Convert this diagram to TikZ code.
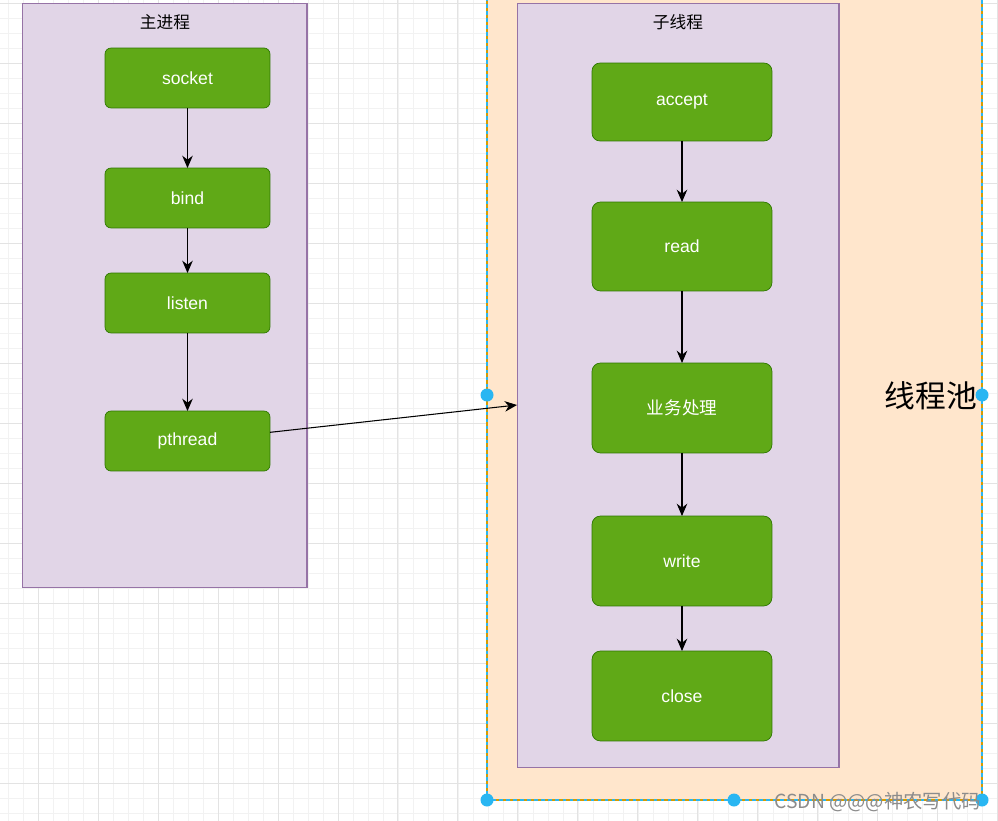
\documentclass[tikz,border=0pt]{standalone}
\usepackage{fontspec}
\setmainfont{Liberation Sans}
\newfontfamily\cjk{Noto Sans CJK SC}
\usetikzlibrary{arrows.meta}

\definecolor{lilacfill}{HTML}{E1D5E7}
\definecolor{lilacline}{HTML}{9673A6}
\definecolor{peachfill}{HTML}{FFE6CC}
\definecolor{peachline}{HTML}{D79B00}
\definecolor{leaf}{HTML}{60A917}
\definecolor{leafline}{HTML}{2D7600}
\definecolor{pick}{HTML}{29B6F2}

\tikzset{
    gridminor/.style={draw=black!5, line width=0.4pt, xstep=0.3cm, ystep=0.3cm},
    gridmajor/.style={draw=black!11, line width=0.5pt, xstep=1.2cm, ystep=1.2cm},
    container/.style={shape=rectangle, draw=lilacline, fill=lilacfill, line width=0.6pt, inner sep=0pt, outer sep=0pt},
    task/.style={shape=rectangle, rounded corners=0.12cm, draw=leafline, fill=leaf, text=white, font=\fontsize{10}{12}\selectfont, inner sep=0pt, outer sep=0pt, minimum width=3.3cm, minimum height=1.2cm},
    bigtask/.style={task, rounded corners=0.17cm, minimum width=3.6cm, minimum height=1.8cm},
    flow/.style={-{Stealth[length=7pt, width=6pt]}, line width=0.6pt, black},
    handle/.style={fill=pick, draw=none},
}

\begin{document}
\begin{tikzpicture}[x={(0.02cm,0)}, y={(0,-0.02cm)}]

    \clip (0,0) rectangle (998,821);
    \fill[white] (0,0) rectangle (998,821);

    % background grid
    \begin{scope}[shift={(38,3.3)}]
        \draw[gridminor] (-60,-60) grid (1020,840);
        \draw[gridmajor] (-60,-60) grid (1020,840);
    \end{scope}

    % thread pool
    \fill[peachfill] (487,-10) rectangle (982,800);
    \draw[peachline, line width=0.6pt] (487,-10) rectangle (982,800);
    \draw[pick, line width=0.6pt, dash pattern=on 2pt off 2pt] (487,-10) rectangle (982,800);
    \node[font=\cjk\fontsize{17.5}{20}\selectfont, anchor=east] (pool) at (983,396) {线程池};

    % main process
    \node[container, minimum width=5.7cm, minimum height=11.7cm] (main) at (164.5,295.5) {};
    \node[font=\cjk\fontsize{9.5}{11}\selectfont] (maintitle) at (165,22) {主进程};

    \node[task] (socket)  at (187.5,78)  {socket};
    \node[task] (bind)    at (187.5,198) {bind};
    \node[task] (listen)  at (187.5,303) {listen};
    \node[task] (pthread) at (187.5,441) {pthread};

    % worker thread
    \node[container, minimum width=6.44cm, minimum height=15.3cm] (child) at (678,385.5) {};
    \node[font=\cjk\fontsize{9.5}{11}\selectfont] (childtitle) at (678,22) {子线程};

    \node[task, minimum width=3.6cm, minimum height=1.56cm, rounded corners=0.16cm] (accept) at (682,102) {accept};
    \node[bigtask, minimum height=1.78cm] (read) at (682,246.5) {read};
    \node[bigtask, font=\cjk\fontsize{10}{12}\selectfont] (work) at (682,408) {业务处理};
    \node[bigtask] (write) at (682,561) {write};
    \node[bigtask] (close) at (682,696) {close};

    \path[flow] (socket) edge (bind);
    \path[flow] (bind) edge (listen);
    \path[flow] (listen) edge (pthread);
    \path[flow] (pthread.6) edge (child.west |- 0,405);

    \path[flow] (accept) edge (read);
    \path[flow] (read) edge (work);
    \path[flow] (work) edge (write);
    \path[flow] (write) edge (close);

    % selection handles
    \fill[handle] (487,395) circle (6.5);
    \fill[handle] (982,395) circle (6.5);
    \fill[handle] (487,800) circle (6.5);
    \fill[handle] (734,800) circle (6.5);
    \fill[handle] (982,800) circle (6.5);

    \node[font=\cjk\fontsize{11}{13}\selectfont, text=black!45, anchor=east] (mark) at (987,802) {CSDN @@@神农写代码};

\end{tikzpicture}
\end{document}
